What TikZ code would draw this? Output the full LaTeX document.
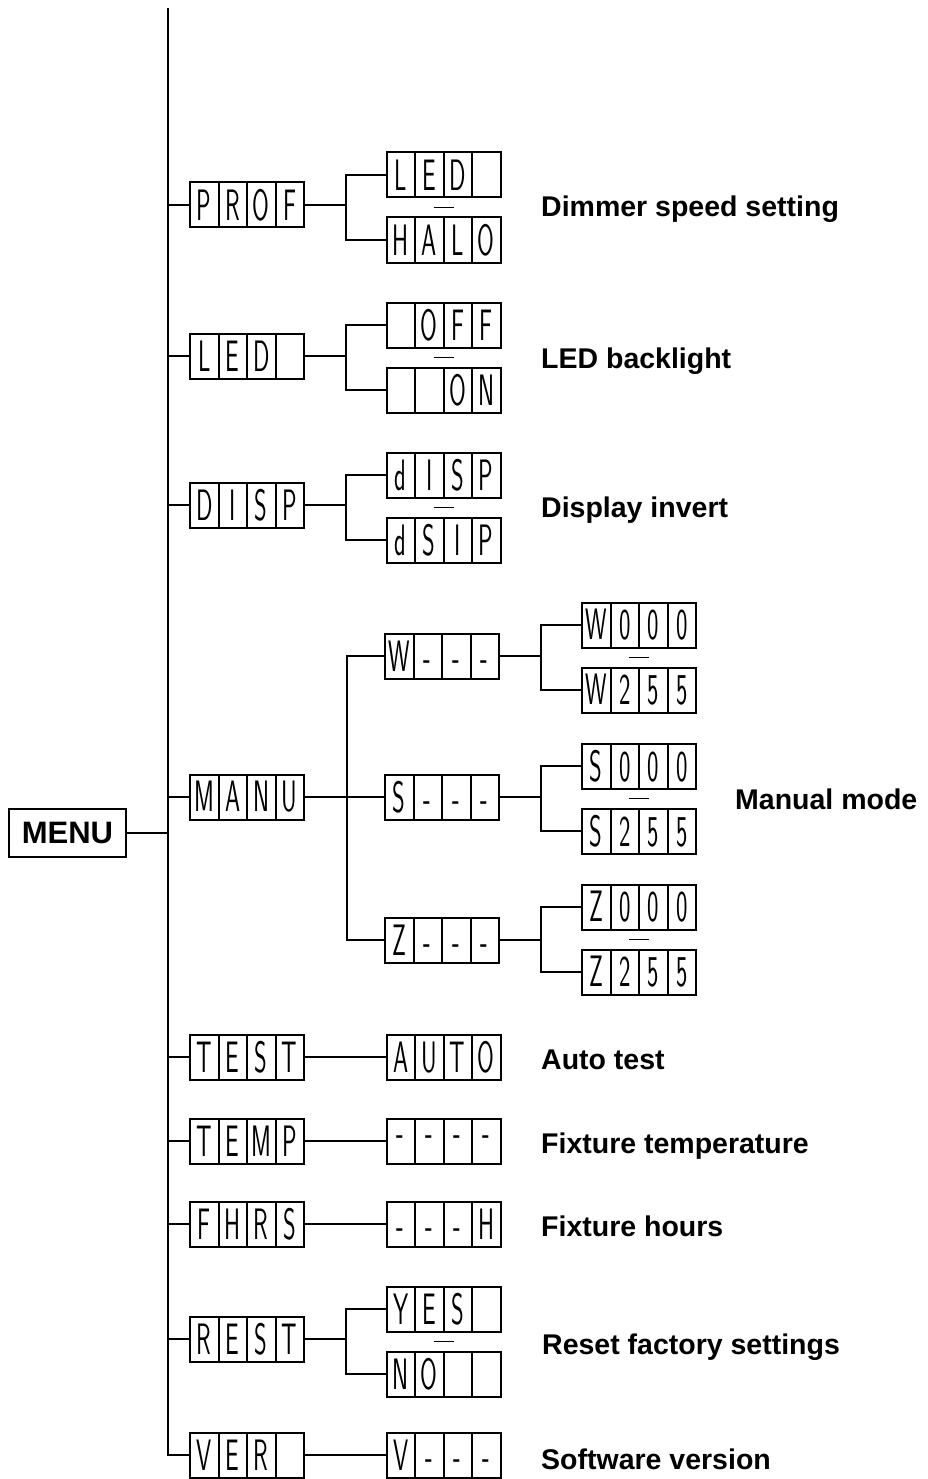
\documentclass[tikz,border=0pt]{standalone}
\usepackage{fontspec}
\setsansfont{Liberation Sans}
\newfontfamily\lcdfont[FakeStretch=0.55]{Latin Modern Sans}
\usetikzlibrary{calc}

% una casella del display
\newcommand\cells[4]{\makebox[28.5pt]{#1}\makebox[28.5pt]{#2}\makebox[28.5pt]{#3}\makebox[28.5pt]{#4}}

\tikzset{
  lcd/.style={draw, line width=2pt, minimum width=114pt, minimum height=45pt,
    inner sep=0pt, outer sep=0pt, font=\lcdfont\fontsize{44}{44}\selectfont,
    path picture={\foreach \k in {1,2,3}
      \draw[line width=2pt]
        ($(path picture bounding box.south west)!\k/4!(path picture bounding box.south east)$) --
        ($(path picture bounding box.north west)!\k/4!(path picture bounding box.north east)$);}},
  voce/.style={anchor=base west, inner sep=0pt, font=\sffamily\bfseries\fontsize{28.5}{28.5}\selectfont},
  filo/.style={line width=2.2pt},
  tronco/.style={line width=2.6pt},
  trattino/.style={line width=1.8pt}
}

\begin{document}
\begin{tikzpicture}[x=1pt, y=-1pt]
  \useasboundingbox (0,0) rectangle (928,1479);

  % menu principale
  \node[draw, line width=2.2pt, minimum width=117pt, minimum height=48pt, inner sep=0pt,
        font=\sffamily\bfseries\fontsize{31}{31}\selectfont] (menu) at (67.5,833) {MENU};
  \coordinate (cima) at (168,8);

  % primo livello
  \node[lcd] (prof) at (247,205)  {\cells PROF};
  \node[lcd] (led)  at (247,356)  {\cells LED{}};
  \node[lcd] (disp) at (247,505)  {\cells DISP};
  \node[lcd] (manu) at (247,797)  {\cells MANU};
  \node[lcd] (test) at (247,1057) {\cells TEST};
  \node[lcd] (temp) at (247,1141) {\cells TEMP};
  \node[lcd] (fhrs) at (247,1224) {\cells FHRS};
  \node[lcd] (rest) at (247,1339) {\cells REST};
  \node[lcd] (ver)  at (247,1455) {\cells VER{}};

  % secondo livello
  \node[lcd] (prof-up) at (443.5,175) {\cells LED{}};
  \node[lcd] (prof-lo) at (443.5,240) {\cells HALO};
  \node[lcd] (led-up)  at (443.5,325) {\cells {}OFF};
  \node[lcd] (led-lo)  at (443.5,390) {\cells {}{}ON};
  \node[lcd] (disp-up) at (443.5,475) {\cells dISP};
  \node[lcd] (disp-lo) at (443.5,540) {\cells dSIP};
  \node[lcd] (w) at (442,656) {\cells W---};
  \node[lcd] (s) at (442,797) {\cells S---};
  \node[lcd] (z) at (442,940) {\cells Z---};
  \node[lcd] (auto)   at (443.5,1057) {\cells AUTO};
  \node[lcd] (temp-v) at (443.5,1141) {\cells ----};
  \node[lcd] (fhrs-v) at (443.5,1224) {\cells ---H};
  \node[lcd] (rest-up) at (443.5,1309) {\cells YES{}};
  \node[lcd] (rest-lo) at (443.5,1374) {\cells NO{}{}};
  \node[lcd] (ver-v)  at (443.5,1455) {\cells V---};

  % terzo livello (manuale)
  \node[lcd] (w-up) at (639,625) {\cells W000};
  \node[lcd] (w-lo) at (639,690) {\cells W255};
  \node[lcd] (s-up) at (639,766) {\cells S000};
  \node[lcd] (s-lo) at (639,831) {\cells S255};
  \node[lcd] (z-up) at (639,907) {\cells Z000};
  \node[lcd] (z-lo) at (639,972) {\cells Z255};

  % descrizioni
  \node[voce] (d-prof) at (541,217)  {Dimmer speed setting};
  \node[voce] (d-led)  at (541,368)  {LED backlight};
  \node[voce] (d-disp) at (541,517)  {Display invert};
  \node[voce] (d-manu) at (735,809)  {Manual mode};
  \node[voce] (d-test) at (541,1069) {Auto test};
  \node[voce] (d-temp) at (541,1153) {Fixture temperature};
  \node[voce] (d-fhrs) at (541,1236) {Fixture hours};
  \node[voce] (d-rest) at (542,1354) {Reset factory settings};
  \node[voce] (d-ver)  at (541,1469) {Software version};

  % tronco e collegamenti
  \draw[tronco] (cima) |- (ver.west);
  \draw[filo] (menu.east) -- (menu.east -| cima);
  \foreach \r in {prof,led,disp,manu,test,temp,fhrs,rest}
    \draw[filo] (\r.west) -- (\r.west -| cima);

  \foreach \r in {prof,led,disp,w,s,z,rest} {
    \draw[filo] (\r.east) -- ++(42,0) coordinate (\r-b) |- (\r-up.west);
    \draw[filo] (\r-b) |- (\r-lo.west);
    \path (\r-up.south) -- (\r-lo.north) coordinate[midway] (\r-m);
    \draw[trattino] ([xshift=-10pt]\r-m) -- ([xshift=10pt]\r-m);
  }

  \draw[filo] (manu.east) -- ++(43,0) coordinate (manu-b) -- (s.west);
  \draw[filo] (manu-b) |- (w.west);
  \draw[filo] (manu-b) |- (z.west);

  \draw[filo] (test.east) -- (auto.west);
  \draw[filo] (temp.east) -- (temp-v.west);
  \draw[filo] (fhrs.east) -- (fhrs-v.west);
  \draw[filo] (ver.east) -- (ver-v.west);
\end{tikzpicture}
\end{document}
